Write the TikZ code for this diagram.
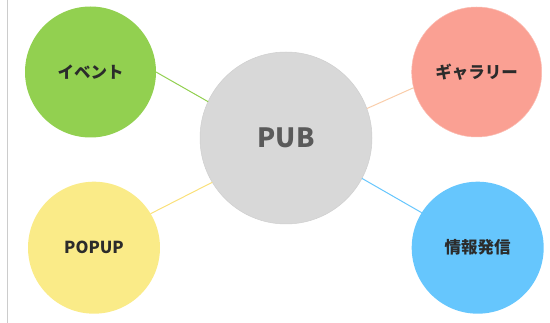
\documentclass[tikz,border=0pt]{standalone}
\usepackage{fontspec}
\newfontfamily\jp{Noto Sans CJK JP}
\definecolor{cgreen}{HTML}{92D050}
\definecolor{csalmon}{HTML}{FAA093}
\definecolor{cyellow}{HTML}{FAEB88}
\definecolor{cblue}{HTML}{66C6FD}
\definecolor{cgray}{HTML}{D8D8D8}
\definecolor{corange}{HTML}{F9CDAA}
\definecolor{ctext}{HTML}{2B2B2B}
\definecolor{cpubtext}{HTML}{5A5A5A}
\begin{document}
\begin{tikzpicture}[x=1pt,y=-1pt,
  bubble/.style={circle,inner sep=0pt,outer sep=0pt,font=\jp\bfseries\fontsize{16.5}{18}\selectfont,text=ctext},
  link/.style={line width=1pt}]
\useasboundingbox (0,0) rectangle (550,323);
\draw[line width=1.4pt,color=black!20] (7.5,0) -- (7.5,323);
\node[bubble,fill=cgray,draw=black!19,line width=0.5pt,minimum size=172pt,font=\jp\bfseries\fontsize{26.5}{28}\selectfont,text=cpubtext] (pub) at (286,138) {PUB};
\node[bubble,fill=cgreen,minimum size=131pt] (ev) at (90.5,72) {イベント};
\node[bubble,fill=csalmon,draw=csalmon!70!white,line width=0.5pt,minimum size=130pt] (gal) at (476.7,72) {ギャラリー};
\node[bubble,fill=cyellow,minimum size=132pt] (pop) at (94,247.7) {POPUP};
\node[bubble,fill=cblue,minimum size=132pt] (info) at (477.7,247.7) {情報発信};
\draw[link,cgreen] (ev.0) -- (pub.155.8);
\draw[link,corange] (pub.20.6) -- (gal.194);
\draw[link,cyellow!90!orange] (pop.31.5) -- (pub.211.6);
\draw[link,cblue] (pub.-28.6) -- (info.148);
\end{tikzpicture}
\end{document}
